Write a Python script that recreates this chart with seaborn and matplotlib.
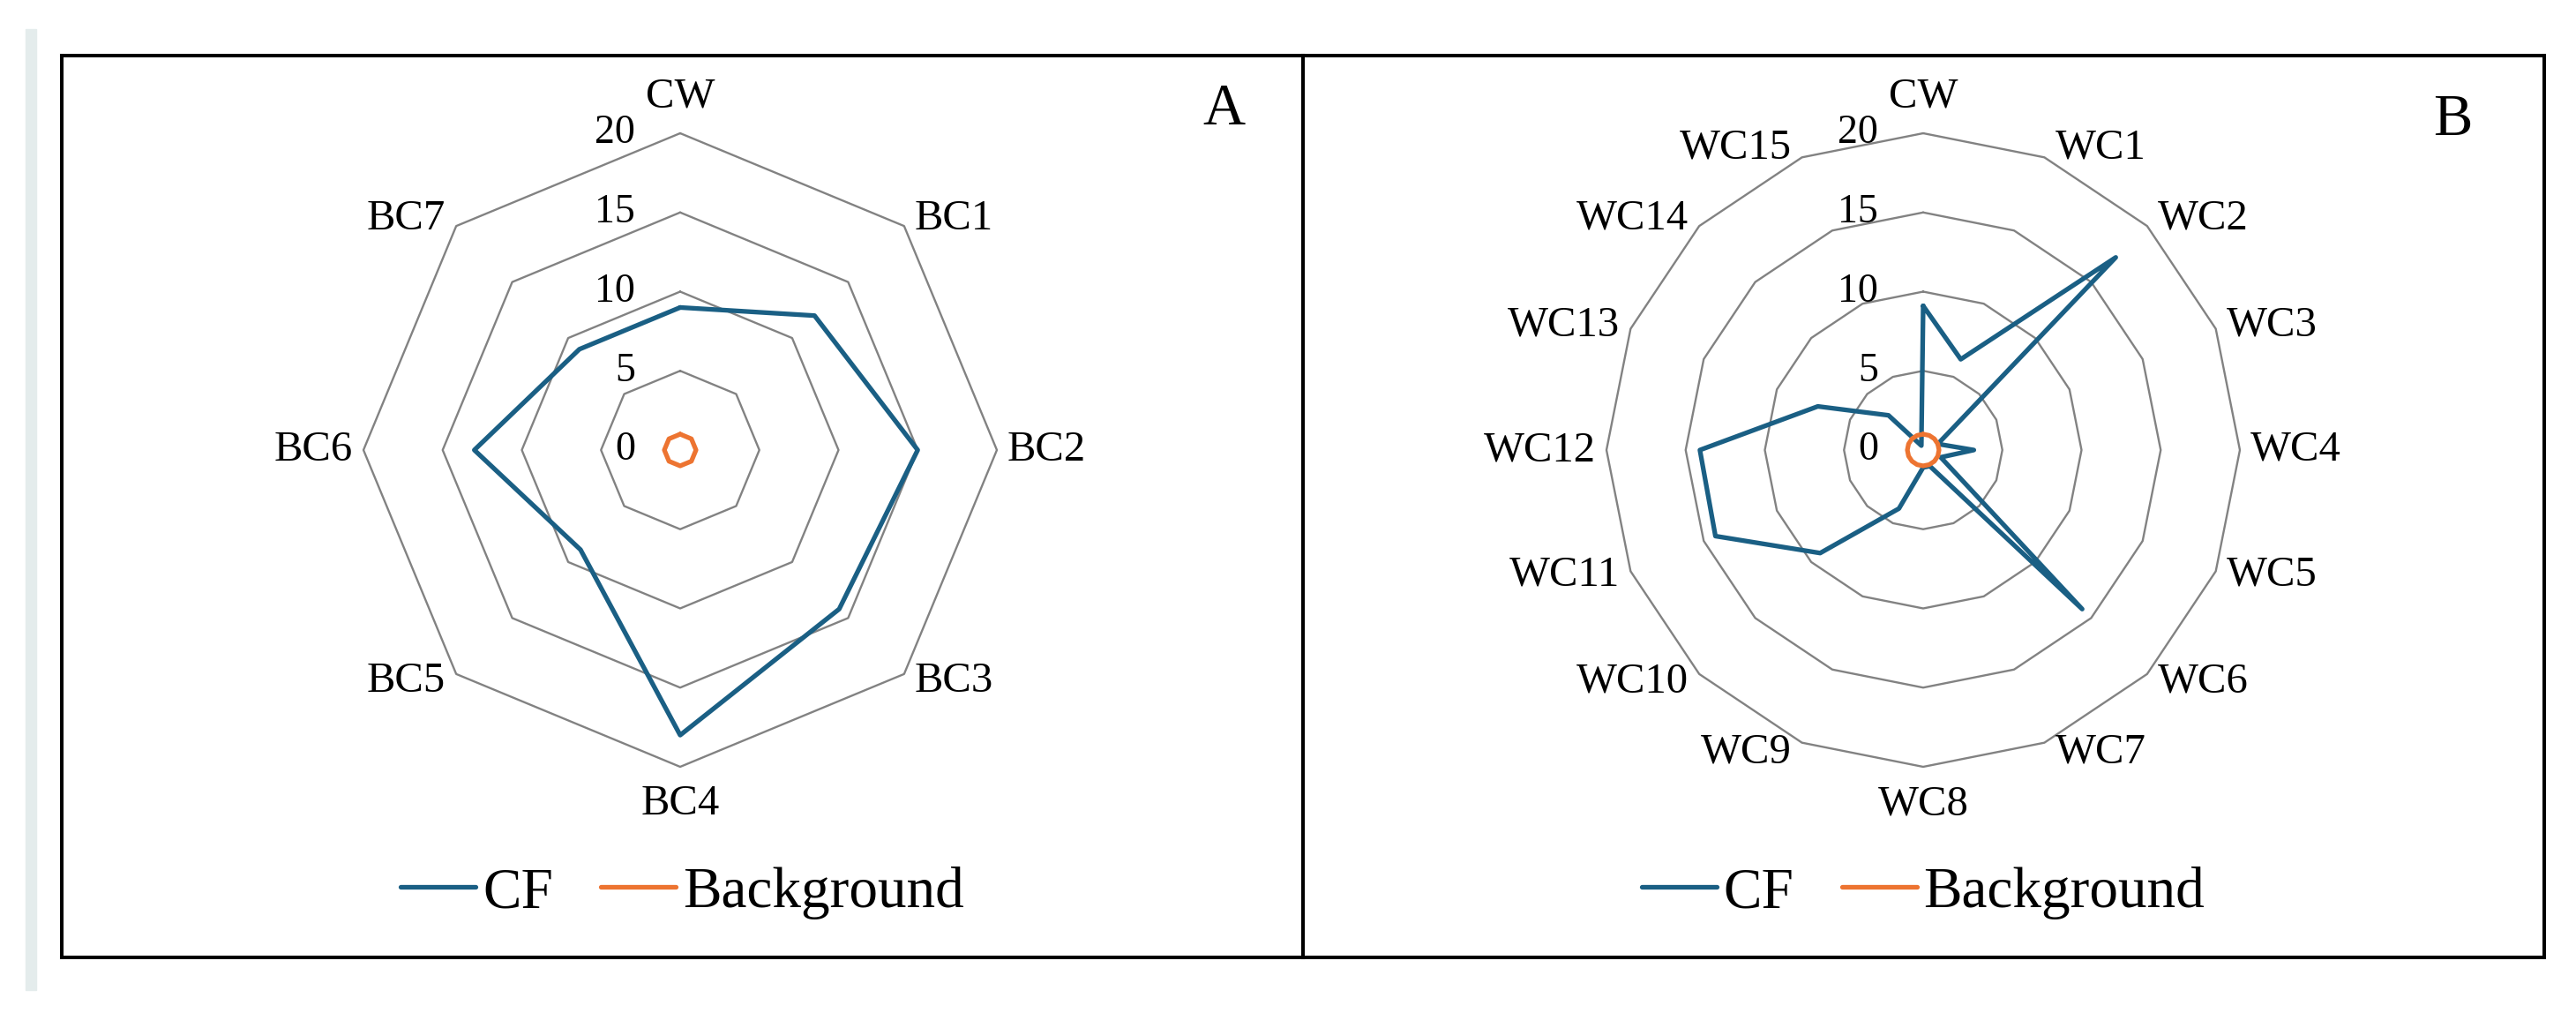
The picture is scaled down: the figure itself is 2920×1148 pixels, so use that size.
import numpy as np
import pandas as pd
import matplotlib
matplotlib.use("Agg")
import matplotlib.pyplot as plt
import seaborn as sns
from matplotlib.patches import Rectangle

# panel A data
cats_a = ["CW", "BC1", "BC2", "BC3", "BC4", "BC5", "BC6", "BC7"]
cf_a = [9.0, 12.0, 15.0, 14.2, 18.0, 8.9, 13.0, 9.0]
bg_a = [1.0, 1.0, 1.0, 1.0, 1.0, 1.0, 1.0, 1.0]

# panel B data
cats_b = ["CW", "WC1", "WC2", "WC3", "WC4", "WC5", "WC6", "WC7",
          "WC8", "WC9", "WC10", "WC11", "WC12", "WC13", "WC14", "WC15"]
cf_b = [9.1, 6.2, 17.2, 1.0, 3.2, 1.2, 14.2, 1.1,
        1.1, 4.0, 9.2, 14.2, 14.1, 7.2, 3.1, 0.3]
bg_b = [1.0, 1.0, 1.0, 1.0, 1.0, 1.0, 1.0, 1.0,
        1.0, 1.0, 1.0, 1.0, 1.0, 1.0, 1.0, 1.0]

rings = [5, 10, 15, 20]
tick_vals = [0, 5, 10, 15, 20]

CF_COLOR = "#1A5F84"
BG_COLOR = "#ED7431"
GRID_COLOR = "#828282"

W, H = 2920, 1148
DPI = 100
SCALE = 359 / 20  # pixels per data unit

sns.set_style("white")
plt.rcParams["font.family"] = ["Liberation Serif", "DejaVu Serif"]
plt.rcParams["text.color"] = "black"


def closed_xy(values, n):
    theta = np.arange(n) * 2 * np.pi / n
    r = np.append(values, values[0])
    t = np.append(theta, theta[0])
    return r * np.sin(t), r * np.cos(t)


def radar(ax, cats, cf, bg):
    n = len(cats)
    theta = np.arange(n) * 2 * np.pi / n

    # polygon grid
    for ring in rings:
        gx, gy = closed_xy(np.full(n, ring), n)
        ax.plot(gx, gy, color=GRID_COLOR, lw=1.7, zorder=1)

    # series
    for vals, name, col in [(cf, "CF", CF_COLOR), (bg, "Background", BG_COLOR)]:
        x, y = closed_xy(np.array(vals), n)
        df = pd.DataFrame({"x": x, "y": y})
        sns.lineplot(data=df, x="x", y="y", sort=False, estimator=None,
                     color=col, lw=3.8, label=name, ax=ax, zorder=3)

    # value labels along the top axis
    for v in tick_vals:
        ax.text(-51 / SCALE, v, str(v), ha="right", va="center", fontsize=33,
                color="black")

    # category labels
    for cat, t in zip(cats, theta):
        s, c = np.sin(t), np.cos(t)
        x, y = 20 * s, 20 * c
        if abs(s) < 0.01:
            ax.text(x, y + np.sign(c) * 42 / SCALE, cat, ha="center", va="center",
                    fontsize=35, color="black")
        else:
            ax.text(x + np.sign(s) * 12 / SCALE, y + c * 12 / SCALE, cat,
                    ha="left" if s > 0 else "right", va="center", fontsize=35,
                    color="black")

    ax.set_xticks([])
    ax.set_yticks([])
    ax.set_xlabel("")
    ax.set_ylabel("")
    for sp in ax.spines.values():
        sp.set_color("black")
        sp.set_linewidth(2.9)

    handles, labels = ax.get_legend_handles_labels()
    leg = ax.legend(handles, labels, loc="center", bbox_to_anchor=(0.5, 0.0714), ncol=2,
                    frameon=False, fontsize=47, handlelength=1.3, handletextpad=0.12,
                    columnspacing=0.83)
    for txt in leg.get_texts():
        txt.set_color("black")


def add_panel(fig, left, right, cx, cats, cf, bg):
    top, bottom, cy = 63, 1085, 510
    ax = fig.add_axes([left / W, (H - bottom) / H, (right - left) / W, (bottom - top) / H])
    ax.set_xlim((left - cx) / SCALE, (right - cx) / SCALE)
    ax.set_ylim((cy - bottom) / SCALE, (cy - top) / SCALE)
    radar(ax, cats, cf, bg)
    return ax


fig = plt.figure(figsize=(W / DPI, H / DPI), dpi=DPI)

# faint page bar on the left
fig.patches.append(Rectangle((29 / W, (H - 1122) / H), 12 / W, (1122 - 33) / H,
                             transform=fig.transFigure, color="#E4ECEC", zorder=0))

add_panel(fig, 70, 1477, 771, cats_a, cf_a, bg_a)
add_panel(fig, 1477, 2883.5, 2180, cats_b, cf_b, bg_b)

fig.text(1412 / W, 1 - 141 / H, "A", ha="right", va="baseline", fontsize=48, color="black")
fig.text(2802 / W, 1 - 153 / H, "B", ha="right", va="baseline", fontsize=48, color="black")

fig.savefig("out.png", dpi=DPI)
